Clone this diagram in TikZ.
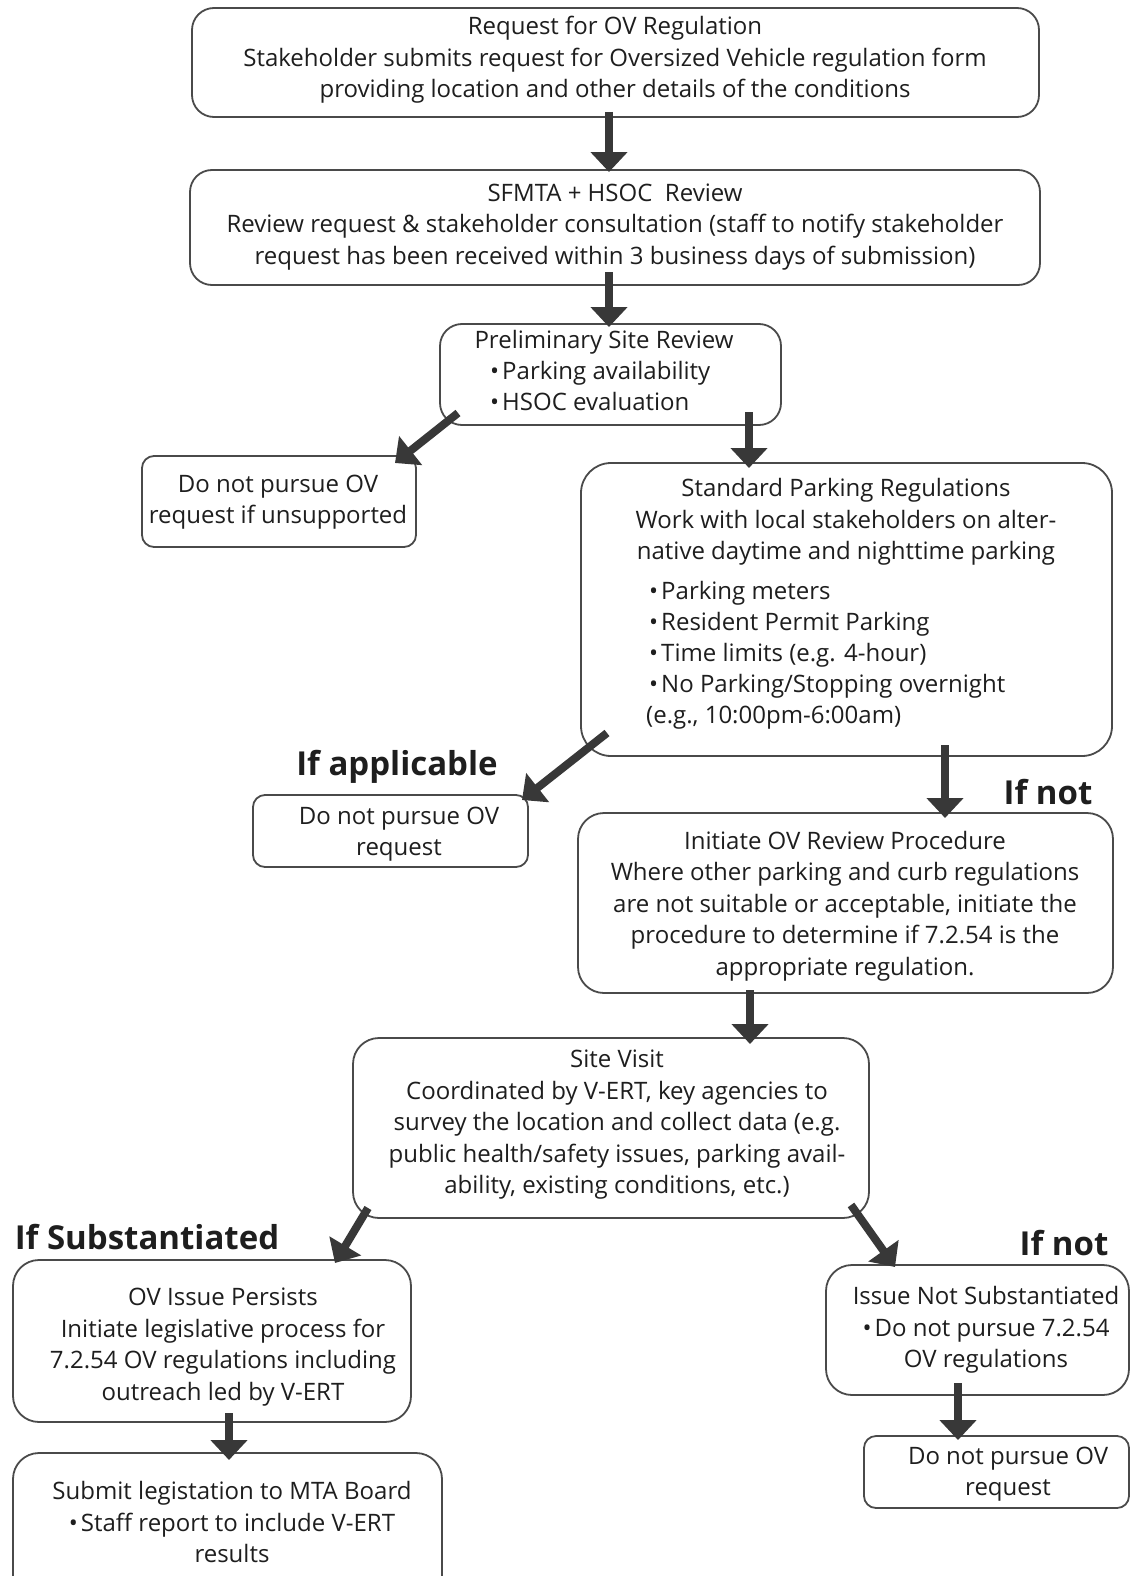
\documentclass[tikz,border=0pt]{standalone}
\usepackage{fontspec}
\setmainfont{Open Sans}
\usetikzlibrary{arrows.meta,calc}
\definecolor{txtc}{HTML}{1E1E1E}
\definecolor{boxc}{HTML}{4A4A4A}
\definecolor{arrc}{HTML}{383838}
\begin{document}
\begin{tikzpicture}[x=1pt,y=1pt,
  flowbox/.style={draw=boxc, line width=1.8pt, rounded corners=#1, fill=white,
    inner sep=0pt, outer sep=0pt, anchor=north west},
  flowbox/.default=22pt,
  txt/.style={align=center, inner sep=0pt, text=txtc, font=\fontsize{24}{31.5}\selectfont},
  txtl/.style={align=left, inner sep=0pt, text=txtc, anchor=west, font=\fontsize{24}{31}\selectfont},
  lbl/.style={inner sep=0pt, text=txtc, font=\fontsize{33}{36}\selectfont\bfseries},
  arr/.style={draw=arrc, line width=8pt, -{Triangle[width=36pt,length=20pt]}}]
\clip (0,0) rectangle (1131,-1576);
\fill[white] (0,0) rectangle (1131,-1576);

% boxes
\node[flowbox, minimum width=847, minimum height=109] (b1) at (192,-8) {};
\node[flowbox, minimum width=850, minimum height=115] (b2) at (190,-170) {};
\node[flowbox, minimum width=341, minimum height=101] (b3) at (440,-324) {};
\node[flowbox=12pt, minimum width=274, minimum height=91] (b4) at (142,-456) {};
\node[flowbox=30pt, minimum width=531, minimum height=293] (b5) at (581,-463) {};
\node[flowbox=12pt, minimum width=275, minimum height=72] (b6) at (253,-795) {};
\node[flowbox=26pt, minimum width=535, minimum height=180] (b7) at (578,-813) {};
\node[flowbox=26pt, minimum width=516, minimum height=180] (b8) at (353,-1038) {};
\node[flowbox=26pt, minimum width=398, minimum height=162] (b9) at (13,-1260) {};
\node[flowbox=26pt, minimum width=303, minimum height=130] (b10) at (826,-1265) {};
\node[flowbox=26pt, minimum width=429, minimum height=160] (b11) at (13,-1453) {};
\node[flowbox=12pt, minimum width=265, minimum height=72] (b12) at (864,-1436) {};

% texts
\node[txt] (t1) at (615,-60) {Request for OV Regulation\\Stakeholder submits request for Oversized Vehicle regulation form\\providing location and other details of the conditions};
\node[txt] (t2) at (615,-227) {SFMTA + HSOC\ \ Review\\Review request \& stakeholder consultation (staff to notify stakeholder\\request has been received within 3 business days of submission)};
\node[txt] (t3) at (604,-342) {Preliminary Site Review};
\node[txtl] (t3b) at (490,-386) {•\hspace{3pt}Parking availability\\•\hspace{3pt}HSOC evaluation};
\node[txt] (t4) at (278,-502) {Do not pursue OV\\request if unsupported};
\node[txt] (t5) at (846,-522) {Standard Parking Regulations\\Work with local stakeholders on alter-\\native daytime and nighttime parking};
\node[txtl] (t5b) at (649,-655) {•\hspace{3pt}Parking meters\\•\hspace{3pt}Resident Permit Parking\\•\hspace{3pt}Time limits (e.g. 4-hour)\\•\hspace{3pt}No Parking/Stopping overnight\\\hspace*{-3pt}(e.g., 10:00pm-6:00am)};
\node[txt] (t6) at (399,-834) {Do not pursue OV\\request};
\node[txt] (t7) at (845,-906) {Initiate OV Review Procedure\\Where other parking and curb regulations\\are not suitable or acceptable, initiate the\\procedure to determine if 7.2.54 is the\\appropriate regulation.};
\node[txt] (t8) at (617,-1125) {Site Visit\\Coordinated by V-ERT, key agencies to\\survey the location and collect data (e.g.\\public health/safety issues, parking avail-\\ability, existing conditions, etc.)};
\node[txt] (t9) at (223,-1347) {OV Issue Persists\\Initiate legislative process for\\7.2.54 OV regulations including\\outreach led by V-ERT};
\node[txt] (t10) at (986,-1330) {Issue Not Substantiated\\•\hspace{3pt}Do not pursue 7.2.54\\OV regulations};
\node[txt] (t11) at (232,-1522) {Submit legistation to MTA Board\\•\hspace{3pt}Staff report to include V-ERT\\results};
\node[txt] (t12) at (1008,-1474) {Do not pursue OV\\request};

% labels
\node[lbl] (l1) at (397,-767) {If applicable};
\node[lbl] (l2) at (1048,-792) {If not};
\node[lbl] (l3) at (147,-1237) {If Substantiated};
\node[lbl] (l4) at (1064,-1243) {If not};

% arrows
\draw[arr] ($(b1.south)+(-6.5,5)$) -- ($(b2.north)+(-6,-2)$);
\draw[arr] ($(b2.south)+(-6,13)$) -- ($(b3.north)+(-1.5,-3)$);
\draw[arr] ($(b3.south west)+(18,12)$) -- ($(b4.north east)+(-21,-7)$);
\draw[arr] ($(b3.south)+(138.5,13)$) -- ($(b5.north)+(-97.5,-5)$);
\draw[arr] ($(b5.south west)+(26,23)$) -- ($(b6.north east)+(-6,-5)$);
\draw[arr] ($(b5.south)+(98.5,11)$) -- ($(b7.north)+(99.5,-5)$);
\draw[arr] ($(b7.south)+(-95.5,3)$) -- ($(b8.north)+(139,-6)$);
\draw[arr] ($(b8.south west)+(15,10)$) -- ($(b9.north east)+(-76,-3)$);
\draw[arr] ($(b8.south east)+(-18,13)$) -- ($(b10.north west)+(69,-2)$);
\draw[arr] ($(b9.south)+(17,9)$) -- ($(b11.north)+(1.5,-7)$);
\draw[arr] ($(b10.south)+(-19.5,12)$) -- ($(b12.north)+(-38.5,-4)$);
\end{tikzpicture}
\end{document}
